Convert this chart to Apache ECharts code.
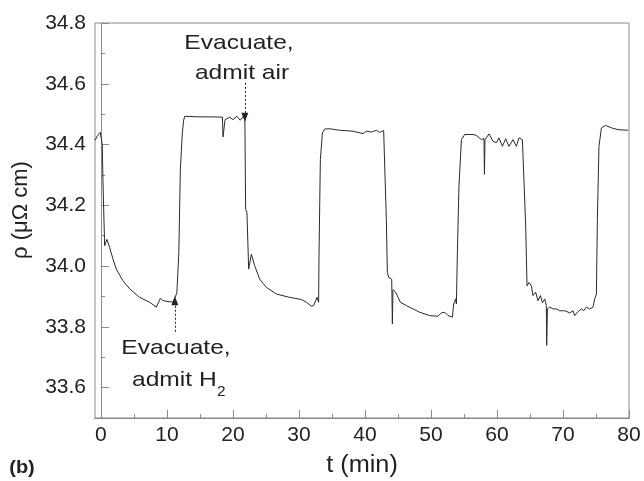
<!DOCTYPE html>
<html>
<head>
<meta charset="utf-8">
<script src="https://cdn.jsdelivr.net/npm/echarts@6/dist/echarts.min.js"></script>
<style>html,body{margin:0;padding:0;background:#fff;}#c{width:644px;height:481px;}</style>
</head>
<body>
<div id="c"></div>
<script>
// time (min)
var timeMin = [-0.9,-0.5,-0.1,0.06,0.2,0.3,0.56,0.91,1.32,1.82,2.33,3.33,4.35,5.86,7.38,8.39,9.0,9.39,10.9,11.5,11.8,12.03,12.33,12.53,12.7,15,17,18.4,18.5,18.8,19.5,20.0,20.6,21.1,21.8,21.92,22.12,22.38,22.79,23.29,24.05,25.06,26.58,28.59,30.36,31.12,31.88,32.23,32.73,32.98,33.03,33.24,33.55,33.89,34.65,36.17,38.18,39.7,40.2,40.97,41.73,42.2,42.83,43.24,43.39,43.59,43.85,44.05,44.15,44.24,44.65,45.36,46.27,48.29,49.8,51.06,51.58,52.08,52.58,53.24,53.44,53.74,53.85,54.0,54.24,54.61,55.11,56.36,56.88,57.64,58.03,58.1,58.18,58.79,59.39,59.91,60.3,60.82,61.32,61.82,62.42,62.94,63.33,63.85,64.35,64.55,64.85,65.21,65.45,65.86,66.21,66.58,66.88,67.23,67.48,67.53,67.64,67.98,68.48,69.0,69.5,70.26,71.02,71.52,71.77,72.27,72.79,73.14,73.55,74.05,74.55,74.8,75.06,75.21,75.45,75.82,76.47,77.33,78.33,79.85];
// resistivity (μΩ cm)
var rho = [34.414,34.43,34.44,34.446,34.40,34.285,34.067,34.088,34.061,34.023,33.99,33.952,33.925,33.897,33.881,33.865,33.894,33.886,33.881,33.911,34.045,34.318,34.438,34.48,34.493,34.491,34.491,34.49,34.425,34.482,34.49,34.482,34.493,34.48,34.498,34.187,34.176,33.99,34.039,34.001,33.957,33.93,33.908,33.897,33.89,33.881,33.868,33.87,33.897,33.881,34.023,34.35,34.438,34.451,34.452,34.447,34.444,34.436,34.444,34.441,34.447,34.44,34.446,34.154,33.979,33.963,33.966,33.957,33.81,33.922,33.914,33.881,33.87,33.848,33.837,33.835,33.846,33.848,33.837,33.832,33.875,33.892,33.875,34.045,34.263,34.416,34.433,34.433,34.43,34.416,34.42,34.302,34.416,34.435,34.411,34.406,34.422,34.394,34.419,34.394,34.416,34.394,34.422,34.416,34.132,33.935,33.946,33.935,33.903,33.914,33.886,33.903,33.879,33.892,33.87,33.739,33.859,33.865,33.859,33.859,33.853,33.853,33.846,33.853,33.837,33.85,33.859,33.853,33.865,33.859,33.865,33.892,33.908,34.154,34.394,34.455,34.463,34.455,34.449,34.447];

var xMajor = [0,10,20,30,40,50,60,70,80];
var xMinor = [5,15,25,35,45,55,65,75];
var yMajor = [33.6,33.8,34.0,34.2,34.4,34.6,34.8];
var yMinor = [33.7,33.9,34.1,34.3,34.5,34.7];

// annotation arrows: [t, from rho, to rho]
var arrowAir = [21.8, 34.603, 34.49];
var arrowH2 = [11.2, 33.784, 33.886];

var FONT = '"Liberation Sans", Arial, sans-serif';
var AX = '#8a8a8a';
var X_MIN = -0.9, X_MAX = 80, Y_MIN = 33.5, Y_MAX = 34.8;

var data = timeMin.map(function (t, i) { return [t, rho[i]]; });

function xAxisDef(ticks, len, labels) {
  return {
    type: 'value', min: X_MIN, max: X_MAX, position: 'bottom',
    axisLine: { show: true, lineStyle: { color: AX, width: 1 } },
    axisTick: { show: true, inside: true, length: len, customValues: ticks, lineStyle: { color: AX } },
    axisLabel: labels ? { show: true, customValues: ticks, margin: 7, color: '#222', fontSize: 21, fontFamily: FONT } : { show: false },
    splitLine: { show: false }
  };
}
function yAxisDef(ticks, len, labels) {
  return {
    type: 'value', min: Y_MIN, max: Y_MAX, position: 'left',
    axisLine: { show: true, lineStyle: { color: AX, width: 1 } },
    axisTick: { show: true, inside: true, length: len, customValues: ticks, lineStyle: { color: AX } },
    axisLabel: labels ? { show: true, customValues: ticks, margin: 9, color: '#222', fontSize: 21, fontFamily: FONT,
      formatter: function (v) { return v.toFixed(1); } } : { show: false },
    splitLine: { show: false }
  };
}

function txt(x, y, s, font, align, sx, rot) {
  return { type: 'text', x: x, y: y, scaleX: sx || 1, rotation: rot || 0,
    style: { text: s, font: font, fill: '#222', textAlign: align || 'center', textVerticalAlign: 'middle' } };
}

var chart = echarts.init(document.getElementById('c'), null, { renderer: 'canvas' });
chart.setOption({
  animation: false,
  backgroundColor: '#fff',
  grid: { left: 95, right: 15, top: 23, bottom: 63, show: true, borderColor: AX, borderWidth: 1 },
  xAxis: [xAxisDef(xMajor, 8, true), xAxisDef(xMinor, 4, false)],
  yAxis: [yAxisDef(yMajor, 8, true), yAxisDef(yMinor, 4, false)],
  series: [{
    type: 'line', data: data, xAxisIndex: 0, yAxisIndex: 0,
    symbol: 'none', smooth: false,
    lineStyle: { color: '#2a2a2a', width: 1 },
    markLine: {
      silent: true, animation: false,
      symbol: ['none', 'triangle'], symbolSize: [7, 9],
      label: { show: false },
      lineStyle: { type: [2, 2], color: '#222', width: 1 },
      data: [
        [{ coord: [arrowAir[0], arrowAir[1]] }, { coord: [arrowAir[0], arrowAir[2]] }],
        [{ coord: [arrowH2[0], arrowH2[1]] }, { coord: [arrowH2[0], arrowH2[2]] }]
      ]
    }
  }],
  graphic: [
    txt(239, 43, 'Evacuate,', '21px ' + FONT, 'center', 1.17),
    txt(242, 73, 'admit air', '21px ' + FONT, 'center', 1.17),
    txt(176, 348, 'Evacuate,', '21px ' + FONT, 'center', 1.17),
    txt(132, 380, 'admit H', '21px ' + FONT, 'left', 1.17),
    txt(217, 392, '2', '14px ' + FONT, 'left', 1.1),
    txt(21, 210, 'ρ (μΩ cm)', '22px ' + FONT, 'center', 1.0, Math.PI / 2),
    txt(362, 466, 't (min)', '23px ' + FONT, 'center', 1.1),
    txt(22, 468, '(b)', 'bold 19px ' + FONT, 'center', 1.05)
  ]
});
</script>
</body>
</html>
